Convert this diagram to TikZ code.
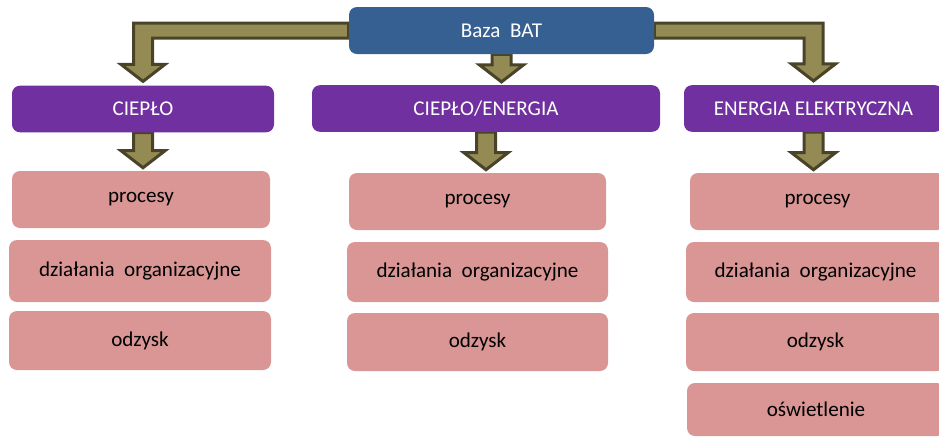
\documentclass[tikz,border=0pt]{standalone}
\usepackage{fontspec}
\setmainfont{Carlito}
\usetikzlibrary{calc,backgrounds}
\definecolor{bazablue}{RGB}{55,96,146}
\definecolor{kolpurple}{RGB}{112,48,160}
\definecolor{kolpink}{RGB}{217,150,148}
\definecolor{arrfill}{RGB}{148,138,84}
\definecolor{arrdraw}{RGB}{73,68,41}
\newcommand{\blkdown}[2]{%
  \coordinate (t) at ($(#2.north -| #1.south)+(0,-3)$);
  \draw[barrow] ($(#1.south)+(-9.5,0)$) -- ($(t)+(-9.5,-17)$) -- ($(t)+(-22,-17)$) -- (t)
    -- ($(t)+(22,-17)$) -- ($(t)+(9.5,-17)$) -- ($(#1.south)+(9.5,0)$) -- cycle;}
\newcommand{\blkelbow}[4]{%
  \coordinate (t) at ($(#3.north)+(0,-4)$);
  \draw[barrow] ($(#1.#2)+(0,-7.5)$) -- ($(t |- #1.#2)+({-9.5*#4},-7.5)$)
    -- ($(t)+({-9.5*#4},-17)$) -- ($(t)+({-22*#4},-17)$) -- (t)
    -- ($(t)+({22*#4},-17)$) -- ($(t)+({9.5*#4},-17)$)
    -- ($(t |- #1.#2)+({9.5*#4},7.5)$) -- ($(#1.#2)+(0,7.5)$) -- cycle;}
\begin{document}
\begin{tikzpicture}[x=0.75pt, y=-0.75pt,
    every node/.style={font=\fontsize{15.8}{18}\selectfont, rounded corners=6pt, inner sep=0pt},
    baza/.style={fill=bazablue, text=white, minimum width=228.75pt, minimum height=35.25pt},
    kol/.style={fill=kolpurple, text=white, minimum height=35pt},
    pk/.style={fill=kolpink, text=black},
    barrow/.style={fill=arrfill, draw=arrdraw, line width=2.25pt, line join=miter}]
  \useasboundingbox (0,0) rectangle (939,437);

  \node[baza] (baza) at (501.5, 30.5) {Baza\ \ BAT};

  \node[kol, minimum width=196.5pt] (cieplo) at (143, 109) {CIEPŁO};
  \node[kol, minimum width=261pt] (cen) at (486, 108.5) {CIEPŁO/ENERGIA};
  \node[kol, minimum width=194.25pt] (ee) at (813.5, 108.5) {ENERGIA ELEKTRYCZNA};

  \node[pk, minimum width=193.5pt, minimum height=42.75pt] (p1) at (141, 199.5) {procesy};
  \node[pk, minimum width=196.5pt, minimum height=46.5pt] (d1) at (140, 271) {działania\ \ organizacyjne};
  \node[pk, minimum width=196.5pt, minimum height=44.25pt] (o1) at (140, 340.5) {odzysk};

  \node[pk, minimum width=192.75pt, minimum height=42.75pt] (p2) at (477.5, 201.5) {procesy};
  \node[pk, minimum width=195.75pt, minimum height=45pt] (d2) at (477.5, 272) {działania\ \ organizacyjne};
  \node[pk, minimum width=195.75pt, minimum height=43.5pt] (o2) at (477.5, 342) {odzysk};

  \node[pk, minimum width=191.25pt, minimum height=42.75pt] (p3) at (817.5, 201.5) {procesy};
  \node[pk, minimum width=194.25pt, minimum height=45pt] (d3) at (815.5, 272) {działania\ \ organizacyjne};
  \node[pk, minimum width=194.25pt, minimum height=43.5pt] (o3) at (815.5, 342) {odzysk};
  \node[pk, minimum width=193.5pt, minimum height=39.75pt] (s3) at (816, 409.5) {oświetlenie};

  \begin{scope}[on background layer]
    \blkelbow{baza}{west}{cieplo}{1}
    \blkelbow{baza}{east}{ee}{-1}
    \blkdown{baza}{cen}
    \blkdown{cieplo}{p1}
    \blkdown{cen}{p2}
    \blkdown{ee}{p3}
  \end{scope}
\end{tikzpicture}
\end{document}
